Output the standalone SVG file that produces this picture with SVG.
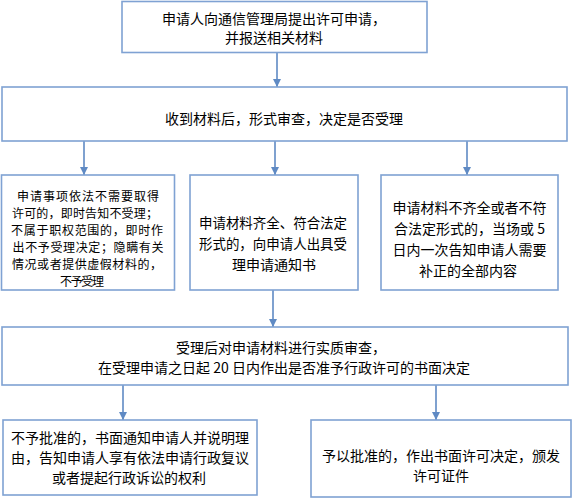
<svg xmlns="http://www.w3.org/2000/svg" width="574" height="500" viewBox="0 0 574 500">
<style>
.box{fill:#fff;stroke:#7fa2d3;stroke-width:1.6}
.t{font-family:"Noto Sans CJK SC","Noto Sans",sans-serif;font-size:14px;fill:#000;text-anchor:middle;dominant-baseline:central}
.s{font-size:12px}
.c{stroke:#5f8ac4;stroke-width:1.6;fill:none}
</style>
<defs>
<marker id="ah" markerUnits="userSpaceOnUse" markerWidth="10" markerHeight="10" viewBox="0 0 10 10" refX="9" refY="5" orient="auto">
<path d="M1,1 L9,5 L1,9 Z" fill="#5f8ac4"/>
</marker>
</defs>
<rect width="574" height="500" fill="#fff"/>
<g id="connectors">
<line class="c" x1="277" y1="53" x2="277" y2="87" marker-end="url(#ah)"/>
<line class="c" x1="84" y1="141" x2="84" y2="175" marker-end="url(#ah)"/>
<line class="c" x1="275" y1="141" x2="275" y2="175" marker-end="url(#ah)"/>
<line class="c" x1="467" y1="141" x2="467" y2="175" marker-end="url(#ah)"/>
<line class="c" x1="273" y1="290" x2="273" y2="327" marker-end="url(#ah)"/>
<line class="c" x1="123" y1="385" x2="123" y2="420" marker-end="url(#ah)"/>
<line class="c" x1="436" y1="385" x2="436" y2="420" marker-end="url(#ah)"/>
</g>
<g id="n1">
<rect class="box" x="122" y="1.5" width="305" height="51"/>
<text class="t" x="274" y="18">申请人向通信管理局提出许可申请，</text>
<text class="t" x="274" y="37">并报送相关材料</text>
</g>
<g id="n2">
<rect class="box" x="2" y="87" width="565" height="54"/>
<text class="t" x="284" y="118">收到材料后，形式审查，决定是否受理</text>
</g>
<g id="n3">
<rect class="box" x="1.5" y="175" width="173" height="115"/>
<text class="t s" x="88" y="195" textLength="142" lengthAdjust="spacing">申请事项依法不需要取得</text>
<text class="t s" x="85" y="212" textLength="146" lengthAdjust="spacing">许可的，即时告知不受理；</text>
<text class="t s" x="87" y="229" textLength="152" lengthAdjust="spacing">不属于职权范围的，即时作</text>
<text class="t s" x="88" y="246" textLength="151" lengthAdjust="spacing">出不予受理决定；隐瞒有关</text>
<text class="t s" x="87" y="263" textLength="150" lengthAdjust="spacing">情况或者提供虚假材料的，</text>
<text class="t s" x="82" y="280" textLength="44" lengthAdjust="spacing">不予受理</text>
</g>
<g id="n4">
<rect class="box" x="190" y="175" width="168" height="115"/>
<text class="t" x="273" y="222" textLength="148" lengthAdjust="spacingAndGlyphs">申请材料齐全、符合法定</text>
<text class="t" x="273" y="243" textLength="148" lengthAdjust="spacingAndGlyphs">形式的，向申请人出具受</text>
<text class="t" x="274" y="264">理申请通知书</text>
</g>
<g id="n5">
<rect class="box" x="381" y="175" width="177" height="115"/>
<text class="t" x="469.5" y="207">申请材料不齐全或者不符</text>
<text class="t" x="469.5" y="228" textLength="151" lengthAdjust="spacing">合法定形式的，当场或 5</text>
<text class="t" x="469.5" y="249">日内一次告知申请人需要</text>
<text class="t" x="468" y="270">补正的全部内容</text>
</g>
<g id="n6">
<rect class="box" x="2" y="327" width="566" height="58"/>
<text class="t" x="281" y="347">受理后对申请材料进行实质审查，</text>
<text class="t" x="284" y="367">在受理申请之日起 20 日内作出是否准予行政许可的书面决定</text>
</g>
<g id="n7">
<rect class="box" x="3" y="420" width="254" height="75"/>
<text class="t" x="130" y="437" textLength="238" lengthAdjust="spacing">不予批准的，书面通知申请人并说明理</text>
<text class="t" x="130" y="457" textLength="238" lengthAdjust="spacing">由，告知申请人享有依法申请行政复议</text>
<text class="t" x="129" y="477">或者提起行政诉讼的权利</text>
</g>
<g id="n8">
<rect class="box" x="311" y="420" width="260" height="77"/>
<text class="t" x="441" y="455" textLength="238" lengthAdjust="spacing">予以批准的，作出书面许可决定，颁发</text>
<text class="t" x="441" y="475">许可证件</text>
</g>
</svg>
